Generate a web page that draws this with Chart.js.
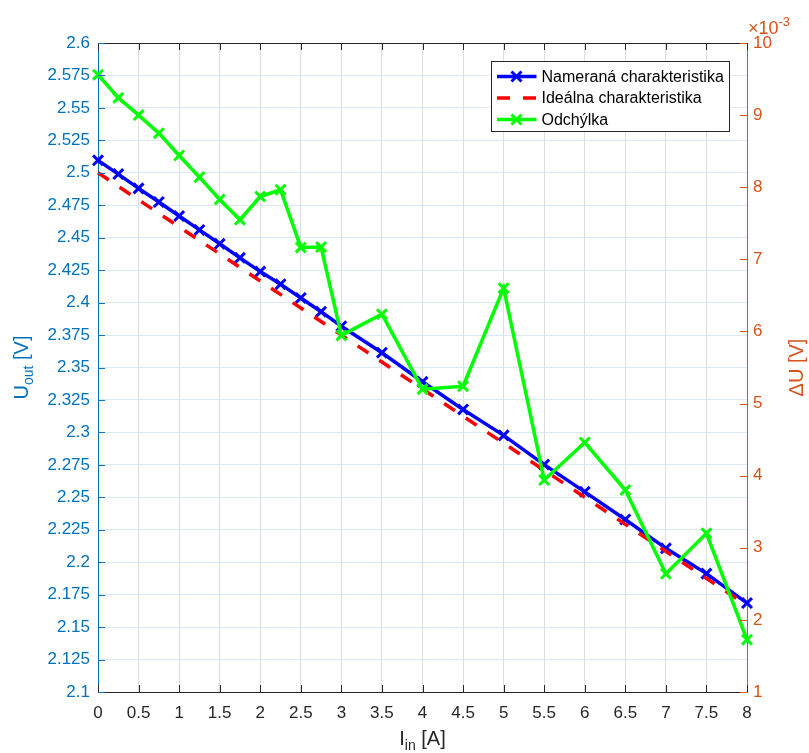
<!DOCTYPE html>
<html>
<head>
<meta charset="utf-8">
<title>Nameraná charakteristika</title>
<script src="https://cdn.jsdelivr.net/npm/chart.js@4.4.1/dist/chart.umd.min.js"></script>
<style>
  html, body { margin: 0; padding: 0; background: #fff; }
  #wrap { width: 809px; height: 753px; position: relative; }
</style>
</head>
<body>
<div id="wrap"><canvas id="chart" width="809" height="753"></canvas></div>
<script>
// input current [A]
const iIn = [0, 0.25, 0.5, 0.75, 1, 1.25, 1.5, 1.75, 2, 2.25, 2.5, 2.75, 3, 3.5, 4, 4.5, 5, 5.5, 6, 6.5, 7, 7.5, 8];
// measured output voltage [V]
const uMeasured = [2.5096, 2.499, 2.488, 2.4775, 2.4667, 2.456, 2.4453, 2.4345, 2.4239, 2.4142, 2.4036, 2.393, 2.3818,
  2.3614, 2.339, 2.3177, 2.2977, 2.2752, 2.2542, 2.2329, 2.2107, 2.1912, 2.1685];
// ideal characteristic (straight line, end points)
const iIdeal = [0, 8];
const uIdeal = [2.5, 2.1667];
// deviation, in units of 1e-3 V (right axis)
const deltaU = [9.56, 9.24, 9.0, 8.75, 8.44, 8.14, 7.83, 7.55, 7.87, 7.965, 7.165, 7.17, 5.945,
  6.24, 5.2, 5.24, 6.6, 3.94, 4.46, 3.8, 2.64, 3.2, 1.725];

const legendLabels = ["Nameraná charakteristika", "Ideálna charakteristika", "Odchýlka"];

const FONT = "'Liberation Sans', Arial, Helvetica, sans-serif";
const AX_BLUE = "#0072BD";
const AX_ORANGE = "#D95319";
const DARK = "#262626";

function toPoints(xs, ys) {
  return xs.map((x, i) => ({ x: x, y: ys[i] }));
}

// draws text made of pieces (for subscripts / superscripts), centred on x
function drawPieces(ctx, pieces, x, y, align) {
  let total = 0;
  pieces.forEach((p) => {
    ctx.font = p.size + "px " + FONT;
    p.w = ctx.measureText(p.text).width;
    total += p.w;
  });
  let cx = align === "left" ? x : x - total / 2;
  ctx.textAlign = "left";
  ctx.textBaseline = "alphabetic";
  pieces.forEach((p) => {
    ctx.font = p.size + "px " + FONT;
    ctx.fillText(p.text, cx, y + (p.dy || 0));
    cx += p.w;
  });
}

function drawCross(ctx, x, y, r, color, width) {
  ctx.save();
  ctx.strokeStyle = color;
  ctx.lineWidth = width;
  ctx.beginPath();
  ctx.moveTo(x - r, y - r);
  ctx.lineTo(x + r, y + r);
  ctx.moveTo(x + r, y - r);
  ctx.lineTo(x - r, y + r);
  ctx.stroke();
  ctx.restore();
}

// MATLAB-like decorations: inward ticks, box, legend, axis titles
const matlabLook = {
  id: "matlabLook",
  afterDatasetsDraw(chart) {
    const ctx = chart.ctx;
    const area = chart.chartArea;
    const tick = 7;
    ctx.save();
    ctx.lineWidth = 1;

    // top box line
    ctx.strokeStyle = DARK;
    ctx.beginPath();
    ctx.moveTo(area.left, area.top + 0.5);
    ctx.lineTo(area.right, area.top + 0.5);
    ctx.stroke();

    // x ticks, bottom and top
    const xs = chart.scales.x;
    ctx.beginPath();
    xs.ticks.forEach((t) => {
      const px = Math.round(xs.getPixelForValue(t.value)) + 0.5;
      ctx.moveTo(px, area.bottom);
      ctx.lineTo(px, area.bottom - tick);
      ctx.moveTo(px, area.top);
      ctx.lineTo(px, area.top + tick);
    });
    ctx.stroke();

    // left ticks
    const ys = chart.scales.y;
    ctx.strokeStyle = AX_BLUE;
    ctx.beginPath();
    ys.ticks.forEach((t) => {
      const py = Math.round(ys.getPixelForValue(t.value)) + 0.5;
      ctx.moveTo(area.left, py);
      ctx.lineTo(area.left + tick, py);
    });
    ctx.stroke();

    // right ticks
    const ys1 = chart.scales.y1;
    ctx.strokeStyle = AX_ORANGE;
    ctx.beginPath();
    ys1.ticks.forEach((t) => {
      const py = Math.round(ys1.getPixelForValue(t.value)) + 0.5;
      ctx.moveTo(area.right, py);
      ctx.lineTo(area.right - tick, py);
    });
    ctx.stroke();
    ctx.restore();
  },
  afterDraw(chart) {
    const ctx = chart.ctx;
    const area = chart.chartArea;
    const sets = chart.data.datasets;
    ctx.save();

    // legend box
    const bx = area.right - 255.5, by = area.top + 18.5, bw = 238, bh = 70;
    ctx.fillStyle = "#fff";
    ctx.fillRect(bx, by, bw, bh);
    ctx.strokeStyle = DARK;
    ctx.lineWidth = 1;
    ctx.strokeRect(bx, by, bw, bh);
    legendLabels.forEach((label, i) => {
      const ds = sets[i];
      const ry = by + 15 + i * 21.5;
      ctx.save();
      ctx.strokeStyle = ds.borderColor;
      ctx.lineWidth = ds.borderWidth;
      ctx.setLineDash(ds.borderDash || []);
      ctx.beginPath();
      ctx.moveTo(bx + 5.5, ry);
      ctx.lineTo(bx + 45, ry);
      ctx.stroke();
      ctx.restore();
      if (ds.pointRadius > 0) {
        drawCross(ctx, bx + 25, ry, 5, ds.borderColor, ds.pointBorderWidth);
      }
      ctx.fillStyle = "#000";
      ctx.font = "16px " + FONT;
      ctx.textAlign = "left";
      ctx.textBaseline = "middle";
      ctx.fillText(label, bx + 50, ry + 1);
    });

    const midY = (area.top + area.bottom) / 2;
    const midX = (area.left + area.right) / 2;

    // left title
    ctx.fillStyle = AX_BLUE;
    ctx.save();
    ctx.translate(28, midY);
    ctx.rotate(-Math.PI / 2);
    drawPieces(ctx, [
      { text: "U", size: 20 },
      { text: "out", size: 14, dy: 5 },
      { text: " [V]", size: 20 }
    ], 0, 0);
    ctx.restore();

    // right title
    ctx.fillStyle = AX_ORANGE;
    ctx.save();
    ctx.translate(803, midY);
    ctx.rotate(-Math.PI / 2);
    drawPieces(ctx, [{ text: "\u0394U [V]", size: 20 }], 0, 0);
    ctx.restore();

    // exponent of right axis
    drawPieces(ctx, [
      { text: "\u00d710", size: 18 },
      { text: "-3", size: 13, dy: -8 }
    ], area.right + 1, 34, "left");

    // x title
    ctx.fillStyle = DARK;
    drawPieces(ctx, [
      { text: "I", size: 20 },
      { text: "in", size: 14, dy: 5 },
      { text: " [A]", size: 20 }
    ], midX, 745);

    ctx.restore();
  }
};

const ctx = document.getElementById("chart").getContext("2d");
new Chart(ctx, {
  type: "line",
  data: {
    datasets: [
      {
        label: legendLabels[0],
        data: toPoints(iIn, uMeasured),
        yAxisID: "y",
        borderColor: "#0000FF",
        borderWidth: 3.5,
        pointStyle: "crossRot",
        pointRadius: 7,
        pointBorderWidth: 3,
        pointBorderColor: "#0000FF",
        fill: false,
        tension: 0,
        clip: false,
        order: 2
      },
      {
        label: legendLabels[1],
        data: toPoints(iIdeal, uIdeal),
        yAxisID: "y",
        borderColor: "#FF0000",
        borderWidth: 3.5,
        borderDash: [13, 13],
        pointRadius: 0,
        pointBorderWidth: 0,
        fill: false,
        tension: 0,
        clip: false,
        order: 1
      },
      {
        label: legendLabels[2],
        data: toPoints(iIn, deltaU),
        yAxisID: "y1",
        borderColor: "#00FF00",
        borderWidth: 3.5,
        pointStyle: "crossRot",
        pointRadius: 7,
        pointBorderWidth: 3,
        pointBorderColor: "#00FF00",
        fill: false,
        tension: 0,
        clip: false,
        order: 0
      }
    ]
  },
  options: {
    responsive: false,
    animation: false,
    events: [],
    layout: { padding: { top: 43, left: 0, right: 0, bottom: 0 } },
    plugins: {
      legend: { display: false },
      tooltip: { enabled: false }
    },
    scales: {
      x: {
        type: "linear",
        min: 0,
        max: 8,
        afterFit: (scale) => { scale.height = 61; },
        grid: { color: "rgb(222,222,222)", lineWidth: 1, drawTicks: false },
        border: { color: DARK, width: 1 },
        ticks: {
          stepSize: 0.5,
          autoSkip: false,
          maxRotation: 0,
          minRotation: 0,
          padding: 11,
          color: DARK,
          font: { family: FONT, size: 17 },
          callback: (v) => String(+v.toFixed(2))
        }
      },
      y: {
        type: "linear",
        position: "left",
        min: 2.1,
        max: 2.6,
        afterFit: (scale) => { scale.width = 98; },
        grid: { color: "rgb(217,234,245)", lineWidth: 1, drawTicks: false },
        border: { color: AX_BLUE, width: 1 },
        ticks: {
          stepSize: 0.025,
          autoSkip: false,
          padding: 8,
          color: AX_BLUE,
          font: { family: FONT, size: 17 },
          callback: (v) => String(+v.toFixed(3))
        }
      },
      y1: {
        type: "linear",
        position: "right",
        min: 1,
        max: 10,
        afterFit: (scale) => { scale.width = 62; },
        grid: { display: false, drawTicks: false },
        border: { color: AX_ORANGE, width: 1 },
        ticks: {
          stepSize: 1,
          autoSkip: false,
          padding: 6,
          color: AX_ORANGE,
          font: { family: FONT, size: 17 },
          callback: (v) => String(+v.toFixed(0))
        }
      }
    }
  },
  plugins: [matlabLook]
});
</script>
</body>
</html>
